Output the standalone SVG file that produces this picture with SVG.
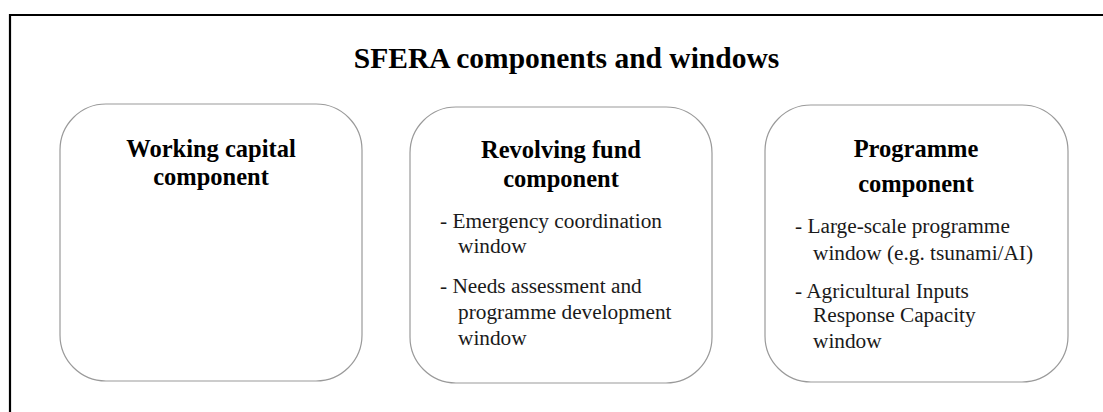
<svg xmlns="http://www.w3.org/2000/svg" width="1103" height="412" viewBox="0 0 1103 412">
<style>
.frame{fill:none;stroke:#000;stroke-width:2.2}
.box{fill:#fff;stroke:#9a9a9a;stroke-width:1.2}
.title{font-family:"Liberation Serif",serif;font-weight:bold;font-size:29.5px;fill:#000}
.head{font-family:"Liberation Serif",serif;font-weight:bold;font-size:24.5px;fill:#000;text-anchor:middle}
.body{font-family:"Liberation Serif",serif;font-size:21.3px;fill:#1a1a1a}
</style>
<rect width="1103" height="412" fill="#fff"/>
<path class="frame" d="M10,413 V15 H1104"/>
<text class="title" x="566.5" y="68" text-anchor="middle">SFERA components and windows</text>
<g id="connectors"></g>
<g id="working-capital">
<rect class="box" x="60" y="104" width="302" height="277" rx="46" ry="46"/>
<text class="head" x="211" y="157">Working capital</text>
<text class="head" x="211" y="185">component</text>
</g>
<g id="revolving-fund">
<rect class="box" x="410" y="107" width="302" height="276" rx="46" ry="46"/>
<text class="head" x="561" y="158">Revolving fund</text>
<text class="head" x="561" y="187">component</text>
<text class="body" x="440" y="228">- Emergency coordination</text>
<text class="body" x="458" y="253">window</text>
<text class="body" x="440" y="293">- Needs assessment and</text>
<text class="body" x="458" y="319">programme development</text>
<text class="body" x="458" y="345">window</text>
</g>
<g id="programme">
<rect class="box" x="765" y="105" width="303" height="277" rx="46" ry="46"/>
<text class="head" x="916" y="157">Programme</text>
<text class="head" x="916" y="192">component</text>
<text class="body" x="795" y="233">- Large-scale programme</text>
<text class="body" x="813" y="260">window (e.g. tsunami/AI)</text>
<text class="body" x="795" y="298">- Agricultural Inputs</text>
<text class="body" x="813" y="322">Response Capacity</text>
<text class="body" x="813" y="348">window</text>
</g>
</svg>
